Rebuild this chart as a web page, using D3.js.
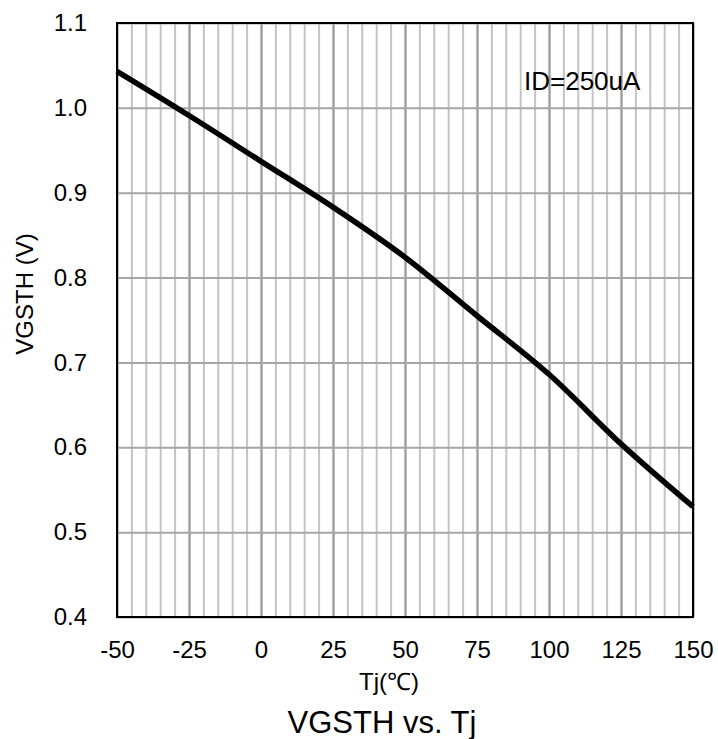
<!DOCTYPE html>
<html lang="en">
  <head>
    <meta charset="utf-8"/>
    <style>
      body {
        margin: 0;
        background: #fff;
        font-family: "Liberation Sans", Arial, sans-serif;
      }
      .tick text {
        font-family: "Liberation Sans", Arial, sans-serif;
        fill: #000;
      }
    </style>
    <script src="https://cdn.jsdelivr.net/npm/d3@7/dist/d3.min.js"></script>
  </head>
  <body>
    <script type="text/javascript">
      // data
      var temps = [-50, -25, 0, 25, 50, 75, 100, 125, 150];
      var vgsth = [1.043, 0.991, 0.937, 0.883, 0.824, 0.755, 0.686, 0.604, 0.530];
      var xTickLabels = [-50, -25, 0, 25, 50, 75, 100, 125, 150];
      var yTickLabels = [0.4, 0.5, 0.6, 0.7, 0.8, 0.9, 1.0, 1.1];
      var minorX = d3.range(-50, 151, 5);

      var w = 718;
      var h = 739;
      var plotL = 117, plotR = 693, plotT = 23, plotB = 617;

      var svg = d3.select("body")
                  .append("svg")
                  .attr("width", w)
                  .attr("height", h);

      var xScale = d3.scaleLinear()
                     .domain([-50, 150])
                     .range([plotL, plotR]);
      var yScale = d3.scaleLinear()
                     .domain([0.4, 1.1])
                     .range([plotB, plotT]);

      // minor vertical gridlines
      svg.append("g")
         .attr("transform", "translate(0," + plotB + ")")
         .call(d3.axisBottom(xScale).tickValues(minorX).tickSize(-(plotB - plotT)).tickFormat(""))
         .call(function(g) { g.select(".domain").remove(); })
         .selectAll("line")
         .attr("stroke", "#c4c4c4")
         .attr("stroke-width", 2);

      // major vertical gridlines
      svg.append("g")
         .attr("transform", "translate(0," + plotB + ")")
         .call(d3.axisBottom(xScale).tickValues(xTickLabels).tickSize(-(plotB - plotT)).tickFormat(""))
         .call(function(g) { g.select(".domain").remove(); })
         .selectAll("line")
         .attr("stroke", "#9a9a9a")
         .attr("stroke-width", 2);

      // horizontal gridlines
      svg.append("g")
         .attr("transform", "translate(" + plotL + ",0)")
         .call(d3.axisLeft(yScale).tickValues(yTickLabels).tickSize(-(plotR - plotL)).tickFormat(""))
         .call(function(g) { g.select(".domain").remove(); })
         .selectAll("line")
         .attr("stroke", "#a6a6a6")
         .attr("stroke-width", 2);

      // the curve
      var line = d3.line()
                   .x(function(d, i) { return xScale(temps[i]); })
                   .y(function(d) { return yScale(d); })
                   .curve(d3.curveMonotoneX);

      svg.append("path")
         .datum(vgsth)
         .attr("fill", "none")
         .attr("stroke", "#000")
         .attr("stroke-width", 5.5)
         .attr("d", line);

      // frame
      svg.append("rect")
         .attr("x", plotL)
         .attr("y", plotT)
         .attr("width", plotR - plotL)
         .attr("height", plotB - plotT)
         .attr("fill", "none")
         .attr("stroke", "#000")
         .attr("stroke-width", 2);

      // x tick labels (plain hyphen like the original)
      var xAxis = svg.append("g")
         .attr("transform", "translate(0," + plotB + ")")
         .call(d3.axisBottom(xScale).tickValues(xTickLabels).tickSize(0).tickPadding(24)
                 .tickFormat(function(d) { return String(d); }));
      xAxis.select(".domain").remove();
      xAxis.selectAll("text").attr("font-size", "24px");

      // y tick labels
      var yAxis = svg.append("g")
         .attr("transform", "translate(" + plotL + ",0)")
         .call(d3.axisLeft(yScale).tickValues(yTickLabels).tickSize(0).tickPadding(30)
                 .tickFormat(d3.format(".1f")));
      yAxis.select(".domain").remove();
      yAxis.selectAll("text").attr("font-size", "24px");

      // annotation
      svg.append("text")
         .attr("x", 524)
         .attr("y", 90)
         .attr("font-size", "26px")
         .text("ID=250uA");

      // x-axis label
      svg.append("text")
         .attr("x", 389)
         .attr("y", 690)
         .attr("text-anchor", "middle")
         .attr("font-size", "24px")
         .text("Tj(℃)");

      // y-axis label
      svg.append("text")
         .attr("transform", "translate(33,294) rotate(-90)")
         .attr("text-anchor", "middle")
         .attr("font-size", "24px")
         .text("VGSTH (V)");

      // chart title
      svg.append("text")
         .attr("x", 382)
         .attr("y", 733)
         .attr("text-anchor", "middle")
         .attr("font-size", "31px")
         .text("VGSTH vs. Tj");
    </script>
  </body>
</html>
